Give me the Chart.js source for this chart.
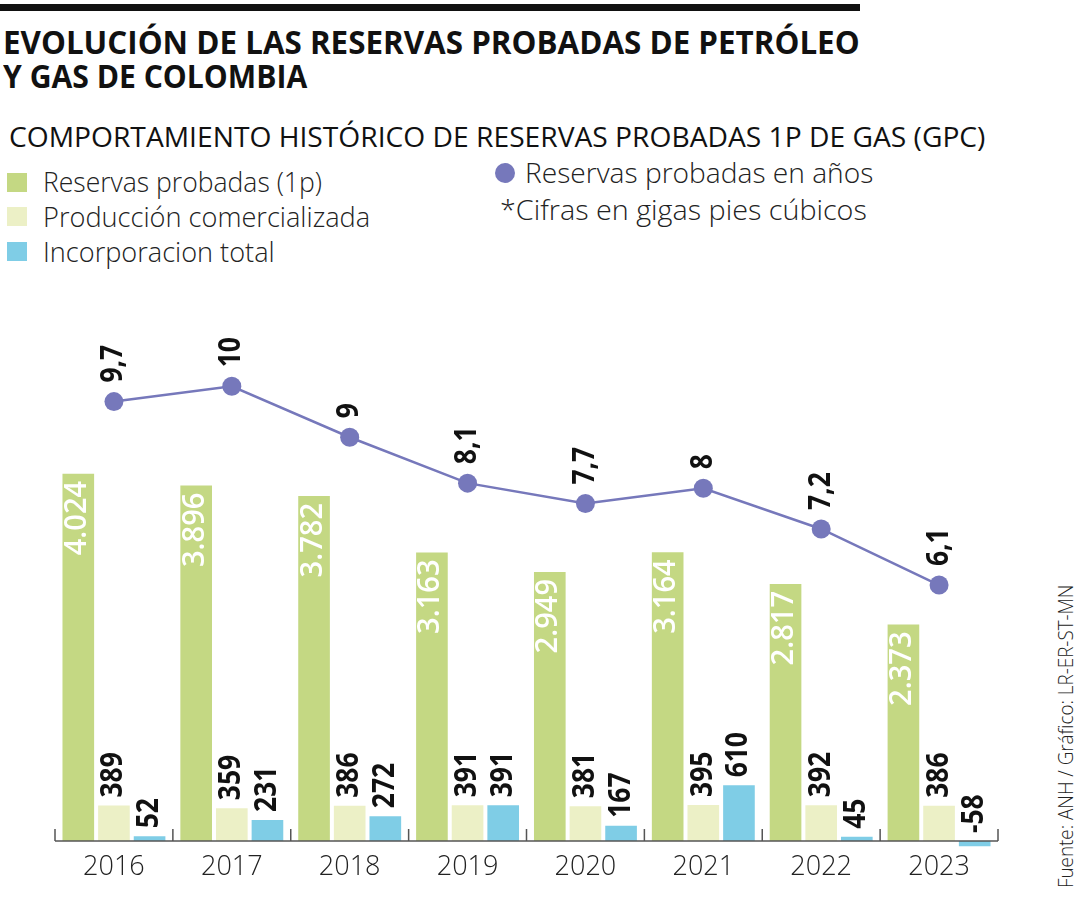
<!DOCTYPE html>
<html lang="es">
<head>
<meta charset="utf-8">
<title>Reservas probadas de gas - Colombia</title>
<script src="https://cdn.jsdelivr.net/npm/chart.js@4.4.3/dist/chart.umd.min.js"></script>
<style>
    html, body { margin: 0; padding: 0; background: #fff; }
    body { width: 1080px; height: 900px; position: relative; overflow: hidden; font-family: "Open Sans", sans-serif; color: #1a1a1a; }
    .rule { position: absolute; left: 0; top: 4px; width: 860px; height: 7px; background: #111; }
    .txt { position: absolute; white-space: nowrap; transform-origin: 0 0; }
    .title { left: 3px; font-weight: 700; font-size: 33px; line-height: 34px; color: #111; }
    .subtitle { left: 9px; top: 122px; font-size: 28px; line-height: 28px; color: #111; }
    .leg { font-size: 27px; line-height: 27px; font-weight: 300; color: #222; }
    .swatch { position: absolute; left: 7px; width: 20px; height: 19px; }
    .dot { position: absolute; left: 495px; top: 163px; width: 20px; height: 20px; border-radius: 50%; background: #7678bb; }
    .source { left: 1055px; top: 888px; font-size: 21px; line-height: 21px; font-weight: 300; color: #222; }
    #chartBox { position: absolute; left: 0; top: 290px; width: 1080px; height: 610px; }
</style>
</head>
<body>
<div class="rule"></div>
<div class="txt title" style="top:25px" data-w="857">EVOLUCIÓN DE LAS RESERVAS PROBADAS DE PETRÓLEO</div>
<div class="txt title" style="top:59px" data-w="304">Y GAS DE COLOMBIA</div>
<div class="txt subtitle" data-w="976">COMPORTAMIENTO HISTÓRICO DE RESERVAS PROBADAS 1P DE GAS (GPC)</div>

<div class="swatch" style="top:173px;background:#c4d883"></div>
<div class="txt leg" style="left:43px;top:168px" data-w="279">Reservas probadas (1p)</div>
<div class="swatch" style="top:207px;background:#ecf0c6"></div>
<div class="txt leg" style="left:43px;top:203px" data-w="327">Producción comercializada</div>
<div class="swatch" style="top:242px;background:#7fcde6"></div>
<div class="txt leg" style="left:43px;top:238px" data-w="232">Incorporacion total</div>

<div class="dot"></div>
<div class="txt leg" style="left:525px;top:159px" data-w="348">Reservas probadas en años</div>
<div class="txt leg" style="left:500px;top:196px" data-w="367">*Cifras en gigas pies cúbicos</div>

<div class="txt source" data-w="303" data-rot="-90">Fuente: ANH / Gráfico: LR-ER-ST-MN</div>

<div id="chartBox"><canvas id="gasChart"></canvas></div>

<script>
    'use strict';

    const years = ['2016', '2017', '2018', '2019', '2020', '2021', '2022', '2023'];
    const reservas = [4024, 3896, 3782, 3163, 2949, 3164, 2817, 2373];
    const produccion = [389, 359, 386, 391, 381, 395, 392, 386];
    const incorporacion = [52, 231, 272, 391, 167, 610, 45, -58];
    const reservasAnios = [9.7, 10, 9, 8.1, 7.7, 8, 7.2, 6.1];

    const GREEN = '#c4d883';
    const CREAM = '#ecf0c6';
    const BLUE = '#7fcde6';
    const PURPLE = '#7678bb';

    // squeeze the html texts to the widths of the original lettering
    document.querySelectorAll('[data-w]').forEach((el) => {
        const scale = parseFloat(el.dataset.w) / el.offsetWidth;
        const rot = el.dataset.rot ? `rotate(${el.dataset.rot}deg) ` : '';
        el.style.transform = `${rot}scaleX(${scale})`;
    });

    // 4024 -> "4.024", 9.7 -> "9,7"
    function fmt(v) {
        const s = String(v).replace('.', ',');
        return s.replace(/\B(?=(\d{3})+(?!\d))/g, '.');
    }

    function drawRotated(ctx, text, x, y, align, font, color, squeeze) {
        ctx.save();
        ctx.translate(x, y);
        ctx.rotate(-Math.PI / 2);
        ctx.scale(squeeze, 1);
        ctx.font = font;
        ctx.fillStyle = color;
        ctx.textAlign = align;
        ctx.textBaseline = 'middle';
        ctx.fillText(text, 0, 0);
        ctx.restore();
    }

    const baselinePlugin = {
        id: 'baseline',
        afterDatasetsDraw(chart) {
            const { ctx, chartArea, scales } = chart;
            const y0 = scales.y.getPixelForValue(0);
            ctx.save();
            ctx.strokeStyle = '#555';
            ctx.lineWidth = 1.5;
            ctx.beginPath();
            ctx.moveTo(chartArea.left, y0);
            ctx.lineTo(chartArea.right, y0);
            for (let i = 0; i <= years.length; i++) {
                const x = scales.x.getPixelForValue(i - 0.5);
                ctx.moveTo(x, y0);
                ctx.lineTo(x, y0 - 12);
            }
            ctx.stroke();
            ctx.restore();
        },
    };

    const valueLabelsPlugin = {
        id: 'valueLabels',
        afterDraw(chart) {
            const { ctx } = chart;
            const bold = 'bold 30px "Open Sans"';
            chart.data.datasets.forEach((ds, di) => {
                const meta = chart.getDatasetMeta(di);
                meta.data.forEach((el, i) => {
                    const v = ds.data[i];
                    const text = fmt(v);
                    if (ds.type === 'line') {
                        drawRotated(ctx, text, el.x, el.y - 19, 'left', bold, '#111', 0.88);
                    } else if (ds.labelInside) {
                        drawRotated(ctx, text, el.x - 1, el.y + 7, 'right', '600 30px "Open Sans"', '#fff', 0.97);
                    } else {
                        const top = Math.min(el.y, el.base);
                        drawRotated(ctx, text, el.x, top - 8, 'left', bold, '#111', 0.88);
                    }
                });
            });
        },
    };

    new Chart(document.getElementById('gasChart'), {
        type: 'bar',
        data: {
            labels: years,
            datasets: [
                {
                    type: 'line',
                    label: 'Reservas probadas en años',
                    data: reservasAnios,
                    yAxisID: 'y2',
                    borderColor: PURPLE,
                    borderWidth: 2.5,
                    backgroundColor: PURPLE,
                    pointBackgroundColor: PURPLE,
                    pointBorderWidth: 0,
                    pointRadius: 9.5,
                    tension: 0,
                    order: 0,
                },
                {
                    label: 'Reservas probadas (1p)',
                    data: reservas,
                    backgroundColor: GREEN,
                    labelInside: true,
                    order: 1,
                },
                {
                    label: 'Producción comercializada',
                    data: produccion,
                    backgroundColor: CREAM,
                    order: 1,
                },
                {
                    label: 'Incorporacion total',
                    data: incorporacion,
                    backgroundColor: BLUE,
                    order: 1,
                },
            ],
        },
        options: {
            responsive: true,
            maintainAspectRatio: false,
            animation: false,
            layout: { padding: { left: 55, right: 82, top: 10, bottom: 12 } },
            datasets: {
                bar: { categoryPercentage: 0.907, barPercentage: 0.888 },
            },
            plugins: {
                legend: { display: false },
                tooltip: { enabled: false },
            },
            scales: {
                x: {
                    grid: { display: false, drawTicks: false },
                    border: { display: false },
                    ticks: {
                        color: '#222',
                        padding: 4,
                        font: { family: '"Open Sans"', size: 27, weight: 300 },
                    },
                },
                y: {
                    display: false,
                    min: -72.6,
                    max: 5929,
                },
                y2: {
                    display: false,
                    min: 0.947,
                    max: 11.694,
                },
            },
        },
        plugins: [baselinePlugin, valueLabelsPlugin],
    });
</script>
</body>
</html>
